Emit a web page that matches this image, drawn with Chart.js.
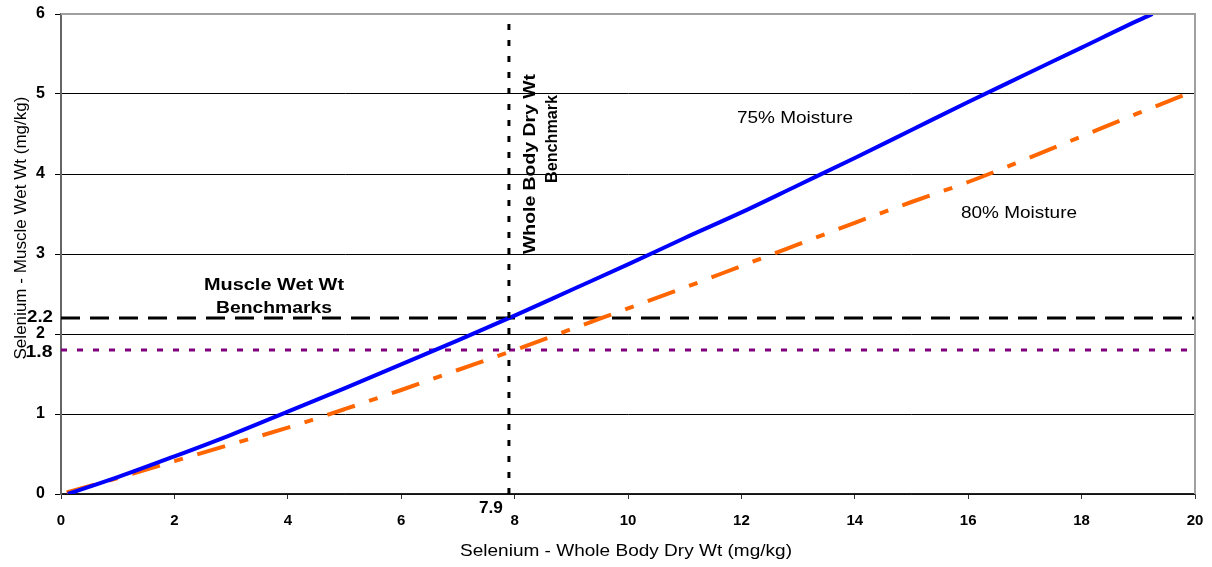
<!DOCTYPE html>
<html>
<head>
<meta charset="utf-8">
<script src="https://cdn.jsdelivr.net/npm/chart.js@4"></script>
<style>
  html, body { margin: 0; padding: 0; background: #fff; }
  #wrap { width: 1212px; height: 567px; }
</style>
</head>
<body>
<div id="wrap"><canvas id="chart" width="1212" height="567"></canvas></div>
<script>
// Selenium: whole body dry wt (x) vs muscle wet wt (y)
const blueX   = [0.12, 1, 2, 3, 4, 5, 6, 7, 8, 9, 10, 11, 12, 13, 14, 15, 16, 17, 18, 19, 19.25];
const moist75 = [0, 0.21, 0.47, 0.74, 1.03, 1.32, 1.62, 1.92, 2.23, 2.55, 2.87, 3.2, 3.52, 3.86, 4.2, 4.55, 4.9, 5.24, 5.58, 5.92, 6.0];
const orangeX = [0.1, 1, 2, 3, 4, 5, 6, 7, 8, 9, 10, 11, 12, 13, 14, 15, 16, 17, 18, 19, 20];
const moist80 = [0.02, 0.2, 0.41, 0.62, 0.83, 1.06, 1.3, 1.55, 1.8, 2.06, 2.32, 2.58, 2.85, 3.12, 3.39, 3.65, 3.9, 4.18, 4.47, 4.76, 5.04];

const muscleBench = [2.2, 1.8];   // mg/kg wet wt
const wholeBodyBench = 7.9;        // mg/kg dry wt
const yTicks = [0, 1, 2, 3, 4, 5, 6];
const xTicks = [0, 2, 4, 6, 8, 10, 12, 14, 16, 18, 20];

const FONT = "Arial, 'Liberation Sans', sans-serif";
const pts = (xs, ys) => xs.map((x, i) => ({ x: x, y: ys[i] }));

// text squeezed/stretched to a given width (the original is stretched sideways)
function fitText(ctx, text, cx, cy, w, font, angle) {
    ctx.save();
    ctx.font = font;
    const m = ctx.measureText(text).width;
    ctx.translate(cx, cy);
    if (angle) ctx.rotate(angle);
    ctx.scale(w / m, 1);
    ctx.fillText(text, 0, 0);
    ctx.restore();
}

const extrasPlugin = {
    id: 'extras',
    afterDraw(chart) {
        const { ctx, chartArea: a, scales: { x, y } } = chart;
        ctx.save();
        // top + right frame
        ctx.strokeStyle = '#a0a0a0';
        ctx.lineWidth = 2;
        ctx.beginPath();
        ctx.moveTo(a.left, a.top);
        ctx.lineTo(a.right, a.top);
        ctx.lineTo(a.right, a.bottom);
        ctx.stroke();

        ctx.fillStyle = '#000';
        ctx.textAlign = 'center';
        ctx.textBaseline = 'middle';
        const reg = '17px ' + FONT, bold = 'bold 17px ' + FONT;

        fitText(ctx, 'Selenium - Whole Body Dry Wt (mg/kg)', 626, 551, 332, reg);
        fitText(ctx, 'Selenium - Muscle Wet Wt (mg/kg)', 21, 228, 263, reg, -Math.PI / 2);
        fitText(ctx, '75% Moisture', 795, 118, 116, reg);
        fitText(ctx, '80% Moisture', 1019, 213, 116, reg);

        fitText(ctx, 'Muscle Wet Wt', 274, 285, 140, bold);
        fitText(ctx, 'Benchmarks', 274, 308, 116, bold);
        fitText(ctx, 'Whole Body Dry Wt', 530, 164, 180, bold, -Math.PI / 2);
        fitText(ctx, 'Benchmark', 552, 139, 88, bold, -Math.PI / 2);

        // benchmark tick labels
        fitText(ctx, '2.2', 40, y.getPixelForValue(muscleBench[0]) - 1, 26, bold);
        fitText(ctx, '1.8', 39, y.getPixelForValue(muscleBench[1]) + 2, 27, bold);
        fitText(ctx, String(wholeBodyBench), x.getPixelForValue(wholeBodyBench) - 18, a.bottom + 14, 24, bold);
        ctx.restore();
    }
};

new Chart('chart', {
    type: 'line',
    data: {
        datasets: [
            { label: 'Whole body', data: [{ x: wholeBodyBench, y: 0 }, { x: wholeBodyBench, y: 6 }], borderColor: '#000', borderWidth: 3, borderDash: [6, 10] },
            { label: '75% Moisture', data: pts(blueX, moist75), borderColor: '#0000FF', borderWidth: 4, cubicInterpolationMode: 'monotone' },
            { label: '80% Moisture', data: pts(orangeX, moist80), borderColor: '#FF6600', borderWidth: 4, borderDash: [29, 15, 9, 15], cubicInterpolationMode: 'monotone' },
            { label: 'Muscle 2.2', data: [{ x: 0, y: muscleBench[0] }, { x: 20, y: muscleBench[0] }], borderColor: '#000', borderWidth: 3, borderDash: [19, 10] },
            { label: 'Muscle 1.8', data: [{ x: 0, y: muscleBench[1] }, { x: 20, y: muscleBench[1] }], borderColor: '#800080', borderWidth: 3, borderDash: [6, 10] }
        ]
    },
    options: {
        responsive: false,
        animation: false,
        layout: { padding: { top: 14, right: 17, left: 0, bottom: 0 } },
        elements: { point: { radius: 0 } },
        plugins: { legend: { display: false }, tooltip: { enabled: false } },
        scales: {
            x: {
                type: 'linear', min: 0, max: 20,
                afterBuildTicks: s => { s.ticks = xTicks.map(v => ({ value: v })); },
                afterFit: s => { s.height = 73; s.paddingLeft = 0; s.paddingRight = 0; },
                grid: { drawOnChartArea: false, drawTicks: true, tickLength: 5, color: '#333' },
                border: { color: '#222', width: 1.5 },
                ticks: { color: '#000', padding: 13, font: { family: FONT, size: 15, weight: 'bold' }, maxRotation: 0 }
            },
            y: {
                type: 'linear', min: 0, max: 6,
                afterBuildTicks: s => { s.ticks = yTicks.map(v => ({ value: v })); },
                afterFit: s => { s.width = 61; s.paddingTop = 0; s.paddingBottom = 0; },
                grid: { tickLength: 6, color: '#000' },
                border: { color: '#666', width: 2 },
                ticks: { color: '#000', padding: 10, callback: v => String(v), font: { family: FONT, size: 16, weight: 'bold' } }
            }
        }
    },
    plugins: [extrasPlugin]
});
</script>
</body>
</html>
